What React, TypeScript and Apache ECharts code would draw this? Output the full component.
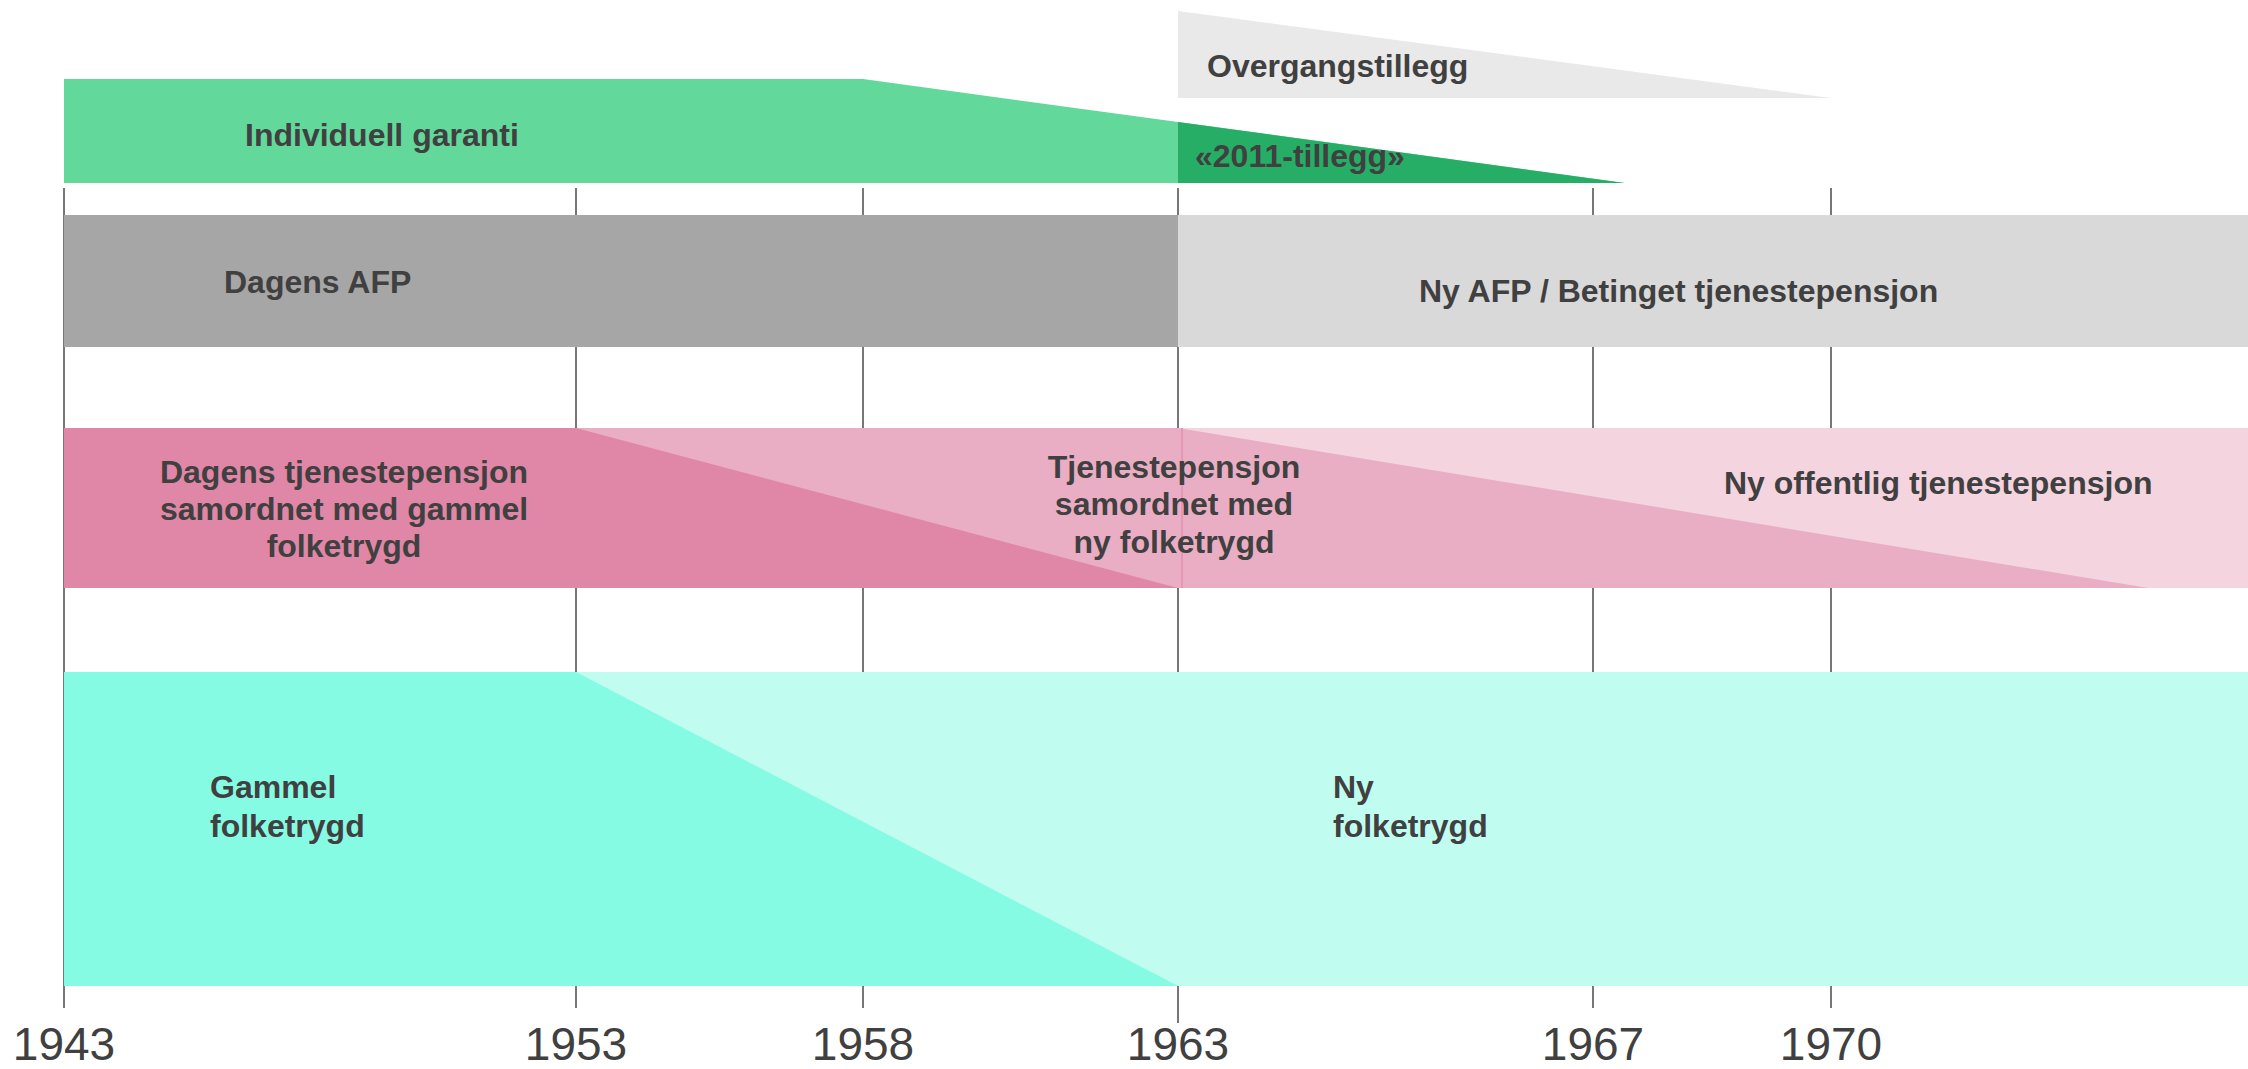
import React, { useEffect, useRef } from "react";
import * as echarts from "echarts";

// ---- Timeline data (birth-year cohorts) ----
const tickYears = [1943, 1953, 1958, 1963, 1967, 1970];
// horizontal spacing of the year marks along the schematic timeline (not linear in years)
const tickPositions = [0, 512, 799, 1114, 1529, 1767];
const timelineEnd = 2184;
const END = Infinity; // scheme continues to the end of the timeline

const individuellGarantiYears = [1943, 1958, 1967.4]; // start, phase-out start, phase-out end
const tillegg2011StartYear = 1963;
const overgangstilleggYears = [1963, 1970];
const dagensAfpYears = [1943, 1963];
const nyAfpStartYear = 1963;
const dagensTpYears = [1943, 1953, 1963]; // start, phase-out start, phase-out end
const tpNyFolketrygdYears = [1953, 1963, 1974]; // phase-in start, phase-out start, phase-out end
const nyOffentligTpStartYear = 1963;
const gammelFolketrygdYears = [1943, 1953, 1963];
const nyFolketrygdYears = [1953, 1963];

// ---- Layout (vertical rows, in px from top) ----
const ROW = {
  overgang: [11, 98],
  garanti: [79, 183],
  afp: [215, 347],
  tp: [428, 588],
  ft: [672, 986],
};
const LINE_TOP = 188;
const LINE_BOTTOM = 1008;
const LINE_BOTTOM_LONG = 1023;

const FONT = '"Liberation Sans", Arial, Helvetica, sans-serif';
const TEXT_COLOR = "#404040";

function yearToPos(year: number): number {
  if (year === END) return timelineEnd;
  const n = tickYears.length;
  let i = 0;
  while (i < n - 2 && year > tickYears[i + 1]) i++;
  const y0 = tickYears[i], y1 = tickYears[i + 1];
  const p0 = tickPositions[i], p1 = tickPositions[i + 1];
  return p0 + ((year - y0) / (y1 - y0)) * (p1 - p0);
}

type Shape = { pts: [number, number][]; fill: string };

function buildShapes(): Shape[] {
  const [gT, gB] = ROW.garanti;
  const [g0, g1, g2] = individuellGarantiYears;
  const t =
    (yearToPos(tillegg2011StartYear) - yearToPos(g1)) /
    (yearToPos(g2) - yearToPos(g1));
  const yAt = gT + t * (gB - gT);
  const [tpT, tpB] = ROW.tp;
  const [ftT, ftB] = ROW.ft;
  const [aT, aB] = ROW.afp;
  const [oT, oB] = ROW.overgang;
  return [
    // Overgangstillegg
    { pts: [[overgangstilleggYears[0], oT], [overgangstilleggYears[1], oB], [overgangstilleggYears[0], oB]], fill: "#e8e9e8" },
    // Individuell garanti
    { pts: [[g0, gT], [g1, gT], [g2, gB], [g0, gB]], fill: "#62d99b" },
    // 2011-tillegg
    { pts: [[tillegg2011StartYear, yAt], [g2, gB], [tillegg2011StartYear, gB]], fill: "#27ae66" },
    // Ny AFP (background) and Dagens AFP
    { pts: [[dagensAfpYears[0], aT], [END, aT], [END, aB], [dagensAfpYears[0], aB]], fill: "#d9d9d9" },
    { pts: [[dagensAfpYears[0], aT], [dagensAfpYears[1], aT], [dagensAfpYears[1], aB], [dagensAfpYears[0], aB]], fill: "#a6a6a6" },
    // Ny offentlig tjenestepensjon (background)
    { pts: [[dagensTpYears[0], tpT], [END, tpT], [END, tpB], [dagensTpYears[0], tpB]], fill: "#f4d5df" },
    // Tjenestepensjon samordnet med ny folketrygd
    { pts: [[dagensTpYears[0], tpT], [nyOffentligTpStartYear, tpT], [tpNyFolketrygdYears[2], tpB], [dagensTpYears[0], tpB]], fill: "#eaaec4" },
    // Dagens tjenestepensjon
    { pts: [[dagensTpYears[0], tpT], [dagensTpYears[1], tpT], [dagensTpYears[2], tpB], [dagensTpYears[0], tpB]], fill: "#e086a6" },
    // Ny folketrygd (background) and Gammel folketrygd
    { pts: [[gammelFolketrygdYears[0], ftT], [END, ftT], [END, ftB], [gammelFolketrygdYears[0], ftB]], fill: "#c0fdf0" },
    { pts: [[gammelFolketrygdYears[0], ftT], [nyFolketrygdYears[0], ftT], [nyFolketrygdYears[1], ftB], [gammelFolketrygdYears[0], ftB]], fill: "#85fbe3" },
  ];
}

function label(text: string, x: number, y: number, align: string, lineHeight = 37) {
  return {
    type: "text",
    x,
    y,
    z: 100,
    zlevel: 0,
    silent: true,
    style: {
      text,
      fill: TEXT_COLOR,
      fontSize: 32,
      fontWeight: "bold",
      fontFamily: FONT,
      align,
      verticalAlign: "middle",
      lineHeight,
    },
  };
}

export default function App() {
  const ref = useRef<HTMLDivElement>(null);

  useEffect(() => {
    if (!ref.current) return;
    const chart = echarts.init(ref.current, null, { renderer: "svg" });
    const shapes = buildShapes();
    const [tpT, tpB] = ROW.tp;

    const option: any = {
      animation: false,
      backgroundColor: "#ffffff",
      grid: { left: 64, right: 0, top: 0, bottom: 83, containLabel: false },
      xAxis: {
        type: "value",
        min: 0,
        max: timelineEnd,
        axisLine: { show: false },
        axisTick: { show: false },
        splitLine: { show: false },
        axisLabel: {
          customValues: tickPositions,
          margin: 35,
          fontSize: 46,
          fontFamily: FONT,
          color: TEXT_COLOR,
          showMinLabel: true,
          showMaxLabel: true,
          formatter: (v: number) => {
            const i = tickPositions.findIndex((p) => Math.abs(p - v) < 0.5);
            return i >= 0 ? String(tickYears[i]) : "";
          },
        },
      },
      yAxis: { type: "value", min: 0, max: 986, inverse: true, show: false },
      series: [
        {
          type: "custom",
          name: "year lines",
          silent: true,
          z: 1,
          data: tickYears.map((y) => [yearToPos(y), 0, y]),
          renderItem: (params: any, api: any) => {
            const x = api.value(0);
            const yr = api.value(2);
            const p1 = api.coord([x, LINE_TOP]);
            const p2 = api.coord([x, yr === tillegg2011StartYear ? LINE_BOTTOM_LONG : LINE_BOTTOM]);
            return {
              type: "line",
              shape: { x1: p1[0], y1: p1[1], x2: p2[0], y2: p2[1] },
              style: { stroke: "#4a4a4a", lineWidth: 1.5 },
            };
          },
        },
        {
          type: "custom",
          name: "schemes",
          silent: true,
          z: 2,
          data: shapes.map(() => [0, 0]),
          renderItem: (params: any, api: any) => {
            const s = shapes[params.dataIndex];
            const pts = s.pts.map(([yr, yv]) => api.coord([yearToPos(yr), yv]));
            return { type: "polygon", shape: { points: pts }, style: { fill: s.fill } };
          },
        },
        {
          type: "custom",
          name: "seam",
          silent: true,
          z: 3,
          data: [[yearToPos(nyOffentligTpStartYear) + 4, 0]],
          renderItem: (params: any, api: any) => {
            const x = api.value(0);
            const p1 = api.coord([x, tpT]);
            const p2 = api.coord([x, tpB]);
            return {
              type: "line",
              shape: { x1: p1[0], y1: p1[1], x2: p2[0], y2: p2[1] },
              style: { stroke: "#e48fb0", lineWidth: 1.5 },
            };
          },
        },
      ],
      graphic: {
        elements: [
          label("Overgangstillegg", 1207, 66, "left"),
          label("Individuell garanti", 245, 135, "left"),
          label("«2011-tillegg»", 1195, 156, "left"),
          label("Dagens AFP", 224, 282, "left"),
          label("Ny AFP / Betinget tjenestepensjon", 1419, 291, "left"),
          label("Dagens tjenestepensjon\nsamordnet med gammel\nfolketrygd", 344, 509, "center", 37),
          label("Tjenestepensjon\nsamordnet med\nny folketrygd", 1174, 504, "center", 37.5),
          label("Ny offentlig tjenestepensjon", 1724, 483, "left"),
          label("Gammel\nfolketrygd", 210, 806, "left", 39),
          label("Ny\nfolketrygd", 1333, 806, "left", 39),
        ],
      },
    };
    chart.setOption(option);
    return () => chart.dispose();
  }, []);

  return (
    <div
      ref={ref}
      style={{ position: "fixed", left: 0, top: 0, width: 2248, height: 1069, background: "#fff" }}
    />
  );
}
